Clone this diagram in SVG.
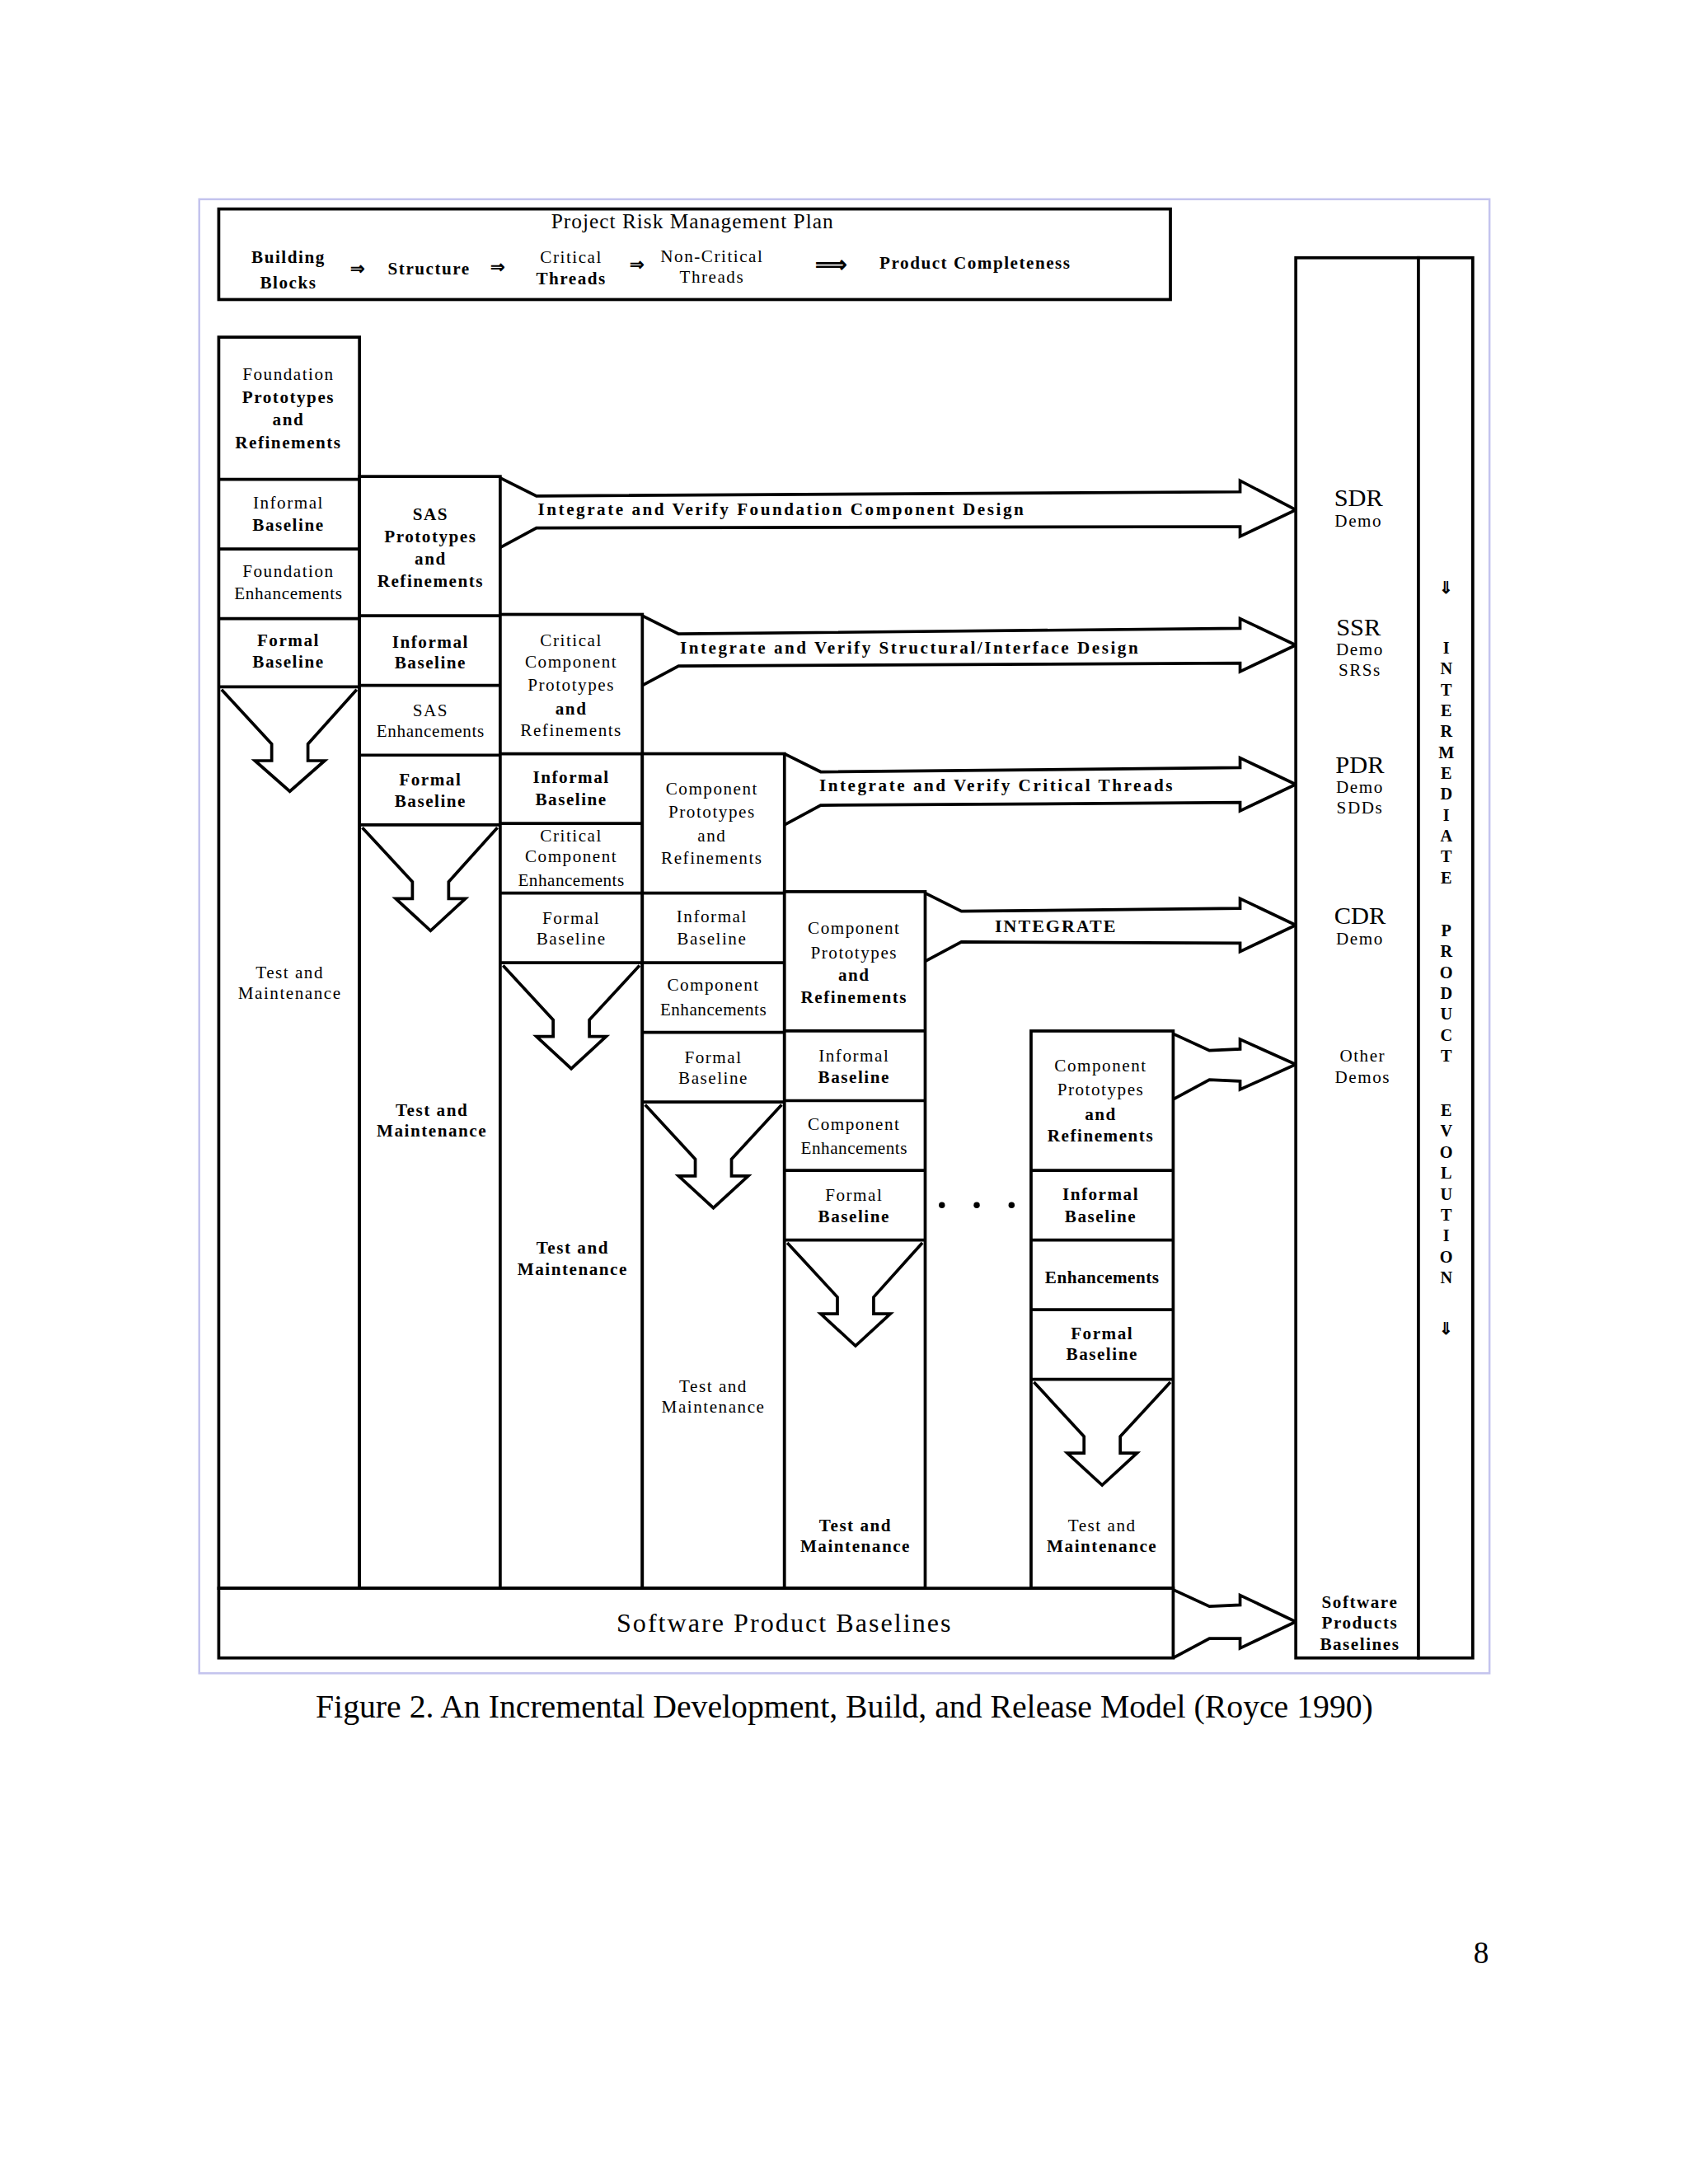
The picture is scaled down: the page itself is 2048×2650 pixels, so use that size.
<svg xmlns="http://www.w3.org/2000/svg" width="2048" height="2650" viewBox="0 0 2048 2650">
<style>
.b{fill:#fff;stroke:#000;stroke-width:2.2}
.l{fill:none;stroke:#000;stroke-width:2.2}
.t{font-family:"Liberation Serif",serif;font-weight:bold;font-size:12.5px;letter-spacing:0.9px;text-anchor:middle}
.a{font-family:"Liberation Serif",serif;font-weight:bold;font-size:12.5px;letter-spacing:1.5px}
.h{font-family:"Liberation Serif",serif;font-size:18px;text-anchor:middle}
.v{font-family:"Liberation Serif",serif;font-weight:bold;font-size:12px;text-anchor:middle}
</style>
<rect width="2048" height="2650" fill="#fff"/>
<g transform="scale(1.6905)">
<rect x="143" y="143" width="926" height="1058" fill="none" stroke="#c4c4ee" stroke-width="1.5"/>
<g id="plan">
<rect class="b" x="157" y="150" width="683" height="65"/>
<text x="497" y="164" style="font-family:'Liberation Serif',serif;font-size:15px;letter-spacing:0.6px;text-anchor:middle">Project Risk Management Plan</text>
<text class="t" x="207" y="189">Building</text><text class="t" x="207" y="207">Blocks</text>
<text class="t" x="257" y="197">⇒</text>
<text class="t" x="308" y="197">Structure</text>
<text class="t" x="358" y="196">⇒</text>
<text class="t" x="410" y="189" style="font-weight:normal">Critical</text><text class="t" x="410" y="204">Threads</text>
<text class="t" x="458" y="194">⇒</text>
<text class="t" x="511" y="188" style="font-weight:normal">Non-Critical</text><text class="t" x="511" y="203" style="font-weight:normal">Threads</text>
<text class="t" x="597" y="195" style="font-size:16px">⟹</text>
<text class="t" x="700" y="193">Product Completeness</text>
</g>
<g id="connectors">
<path class="b" d="M359,343 L385,356 L890,353 L890,345 L930,366 L890,385 L890,378 L385,379 L359,393"/>
<text class="a" x="386" y="370">Integrate and Verify Foundation Component Design</text>
<path class="b" d="M461,442 L487,455 L890,451 L890,444 L930,463 L890,482 L890,476 L487,478 L461,492"/>
<text class="a" x="488" y="469">Integrate and Verify Structural/Interface Design</text>
<path class="b" d="M563,541 L589,554 L890,551 L890,544 L930,563 L890,582 L890,576 L589,578 L563,592"/>
<text class="a" x="588" y="568">Integrate and Verify Critical Threads</text>
<path class="b" d="M664,641 L690,654 L890,652 L890,645 L930,664 L890,683 L890,677 L690,676 L664,690"/>
<text class="a" x="714" y="669" style="font-size:13px;letter-spacing:1.2px">INTEGRATE</text>
<path class="b" d="M842,742 L868,754 L890,753 L890,746 L930,764 L890,782 L890,776 L868,775 L842,789"/>
<path class="b" d="M842,1141 L868,1153 L890,1152 L890,1145 L930,1164 L890,1183 L890,1176 L868,1176 L842,1190"/>
</g>
<g id="col1">
<rect class="b" x="157" y="242" width="101" height="898"/>
<path class="l" d="M157,344H258M157,394H258M157,444H258M157,493H258"/>
<path class="l" d="M159,495 L195,534 L195,546 L183,546 L208,568 L233,546 L221,546 L221,534 L256,495"/>
<text class="t" x="207" y="273" style="font-weight:normal">Foundation</text><text class="t" x="207" y="289">Prototypes</text><text class="t" x="207" y="305">and</text><text class="t" x="207" y="322">Refinements</text>
<text class="t" x="207" y="365" style="font-weight:normal">Informal</text><text class="t" x="207" y="381">Baseline</text>
<text class="t" x="207" y="414" style="font-weight:normal">Foundation</text><text class="t" x="207" y="430" style="font-weight:normal;letter-spacing:0.4px">Enhancements</text>
<text class="t" x="207" y="464">Formal</text><text class="t" x="207" y="479">Baseline</text>
<text class="t" x="208" y="702" style="font-weight:normal">Test and</text><text class="t" x="208" y="717" style="font-weight:normal">Maintenance</text>
</g>
<g id="col2">
<rect class="b" x="258" y="342" width="101" height="798"/>
<path class="l" d="M258,442H359M258,492H359M258,542H359M258,592H359"/>
<path class="l" d="M260,594 L296,633 L296,645 L284,645 L309,668 L334,645 L322,645 L322,633 L357,594"/>
<text class="t" x="309" y="373">SAS</text><text class="t" x="309" y="389">Prototypes</text><text class="t" x="309" y="405">and</text><text class="t" x="309" y="421">Refinements</text>
<text class="t" x="309" y="465">Informal</text><text class="t" x="309" y="480">Baseline</text>
<text class="t" x="309" y="514" style="font-weight:normal">SAS</text><text class="t" x="309" y="529" style="font-weight:normal;letter-spacing:0.4px">Enhancements</text>
<text class="t" x="309" y="564">Formal</text><text class="t" x="309" y="579">Baseline</text>
<text class="t" x="310" y="801">Test and</text><text class="t" x="310" y="816">Maintenance</text>
</g>
<g id="col3">
<rect class="b" x="359" y="441" width="102" height="699"/>
<path class="l" d="M359,541H461M359,591H461M359,641H461M359,691H461"/>
<path class="l" d="M361,693 L397,732 L397,744 L385,744 L410,767 L435,744 L423,744 L423,732 L459,693"/>
<text class="t" x="410" y="464" style="font-weight:normal">Critical</text><text class="t" x="410" y="479" style="font-weight:normal">Component</text><text class="t" x="410" y="496" style="font-weight:normal">Prototypes</text><text class="t" x="410" y="513">and</text><text class="t" x="410" y="528" style="font-weight:normal">Refinements</text>
<text class="t" x="410" y="562">Informal</text><text class="t" x="410" y="578">Baseline</text>
<text class="t" x="410" y="604" style="font-weight:normal">Critical</text><text class="t" x="410" y="619" style="font-weight:normal">Component</text><text class="t" x="410" y="636" style="font-weight:normal;letter-spacing:0.3px">Enhancements</text>
<text class="t" x="410" y="663" style="font-weight:normal">Formal</text><text class="t" x="410" y="678" style="font-weight:normal">Baseline</text>
<text class="t" x="411" y="900">Test and</text><text class="t" x="411" y="915">Maintenance</text>
</g>
<g id="col4">
<rect class="b" x="461" y="541" width="102" height="599"/>
<path class="l" d="M461,641H563M461,691H563M461,741H563M461,791H563"/>
<path class="l" d="M463,793 L499,832 L499,844 L487,844 L512,867 L537,844 L525,844 L525,832 L561,793"/>
<text class="t" x="511" y="570" style="font-weight:normal">Component</text><text class="t" x="511" y="587" style="font-weight:normal">Prototypes</text><text class="t" x="511" y="604" style="font-weight:normal">and</text><text class="t" x="511" y="620" style="font-weight:normal">Refinements</text>
<text class="t" x="511" y="662" style="font-weight:normal">Informal</text><text class="t" x="511" y="678" style="font-weight:normal">Baseline</text>
<text class="t" x="512" y="711" style="font-weight:normal">Component</text><text class="t" x="512" y="729" style="font-weight:normal;letter-spacing:0.3px">Enhancements</text>
<text class="t" x="512" y="763" style="font-weight:normal">Formal</text><text class="t" x="512" y="778" style="font-weight:normal">Baseline</text>
<text class="t" x="512" y="999" style="font-weight:normal">Test and</text><text class="t" x="512" y="1014" style="font-weight:normal">Maintenance</text>
</g>
<g id="col5">
<rect class="b" x="563" y="640" width="101" height="500"/>
<path class="l" d="M563,740H664M563,790H664M563,840H664M563,890H664"/>
<path class="l" d="M565,892 L601,931 L601,943 L589,943 L614,966 L639,943 L627,943 L627,931 L662,892"/>
<text class="t" x="613" y="670" style="font-weight:normal">Component</text><text class="t" x="613" y="688" style="font-weight:normal">Prototypes</text><text class="t" x="613" y="704">and</text><text class="t" x="613" y="720">Refinements</text>
<text class="t" x="613" y="762" style="font-weight:normal">Informal</text><text class="t" x="613" y="777">Baseline</text>
<text class="t" x="613" y="811" style="font-weight:normal">Component</text><text class="t" x="613" y="828" style="font-weight:normal;letter-spacing:0.3px">Enhancements</text>
<text class="t" x="613" y="862" style="font-weight:normal">Formal</text><text class="t" x="613" y="877">Baseline</text>
<text class="t" x="614" y="1099">Test and</text><text class="t" x="614" y="1114">Maintenance</text>
</g>
<g id="dots">
<circle cx="676" cy="865" r="2.2"/><circle cx="701" cy="865" r="2.2"/><circle cx="726" cy="865" r="2.2"/>
</g>
<g id="col6">
<rect class="b" x="740" y="740" width="102" height="400"/>
<path class="l" d="M740,840H842M740,890H842M740,940H842M740,990H842"/>
<path class="l" d="M742,992 L778,1031 L778,1043 L766,1043 L791,1066 L816,1043 L804,1043 L804,1031 L840,992"/>
<text class="t" x="790" y="769" style="font-weight:normal">Component</text><text class="t" x="790" y="786" style="font-weight:normal">Prototypes</text><text class="t" x="790" y="804">and</text><text class="t" x="790" y="819">Refinements</text>
<text class="t" x="790" y="861">Informal</text><text class="t" x="790" y="877">Baseline</text>
<text class="t" x="791" y="921" style="letter-spacing:0.3px">Enhancements</text>
<text class="t" x="791" y="961">Formal</text><text class="t" x="791" y="976">Baseline</text>
<text class="t" x="791" y="1099" style="font-weight:normal">Test and</text><text class="t" x="791" y="1114">Maintenance</text>
</g>
<g id="baselines">
<rect class="b" x="157" y="1140" width="685" height="50"/>
<text x="563" y="1171" style="font-family:'Liberation Serif',serif;font-size:19px;letter-spacing:1.2px;text-anchor:middle">Software Product Baselines</text>
</g>
<g id="reviews">
<rect class="b" x="930" y="185" width="88" height="1005"/>
<text class="h" x="975" y="363">SDR</text><text class="t" x="975" y="378" style="font-weight:normal">Demo</text>
<text class="h" x="975" y="456">SSR</text><text class="t" x="976" y="470" style="font-weight:normal">Demo</text><text class="t" x="976" y="485" style="font-weight:normal">SRSs</text>
<text class="h" x="976" y="555">PDR</text><text class="t" x="976" y="569" style="font-weight:normal">Demo</text><text class="t" x="976" y="584" style="font-weight:normal">SDDs</text>
<text class="h" x="976" y="663">CDR</text><text class="t" x="976" y="678" style="font-weight:normal">Demo</text>
<text class="t" x="978" y="762" style="font-weight:normal">Other</text><text class="t" x="978" y="777" style="font-weight:normal">Demos</text>
<text class="t" x="976" y="1154">Software</text><text class="t" x="976" y="1169">Products</text><text class="t" x="976" y="1184">Baselines</text>
</g>
<g id="evolution">
<rect class="b" x="1018" y="185" width="39" height="1005"/>
<text class="v" x="1038" y="426">⇓</text>
<text class="v" x="1038" y="469">I</text><text class="v" x="1038" y="484">N</text><text class="v" x="1038" y="499">T</text><text class="v" x="1038" y="514">E</text><text class="v" x="1038" y="529">R</text><text class="v" x="1038" y="544">M</text><text class="v" x="1038" y="559">E</text><text class="v" x="1038" y="574">D</text><text class="v" x="1038" y="589">I</text><text class="v" x="1038" y="604">A</text><text class="v" x="1038" y="619">T</text><text class="v" x="1038" y="634">E</text>
<text class="v" x="1038" y="672">P</text><text class="v" x="1038" y="687">R</text><text class="v" x="1038" y="702">O</text><text class="v" x="1038" y="717">D</text><text class="v" x="1038" y="732">U</text><text class="v" x="1038" y="747">C</text><text class="v" x="1038" y="762">T</text>
<text class="v" x="1038" y="801">E</text><text class="v" x="1038" y="816">V</text><text class="v" x="1038" y="831">O</text><text class="v" x="1038" y="846">L</text><text class="v" x="1038" y="861">U</text><text class="v" x="1038" y="876">T</text><text class="v" x="1038" y="891">I</text><text class="v" x="1038" y="906">O</text><text class="v" x="1038" y="921">N</text>
<text class="v" x="1038" y="958">⇓</text>
</g>
<text x="606" y="1233" style="font-family:'Liberation Serif',serif;font-size:23.5px;text-anchor:middle">Figure 2. An Incremental Development, Build, and Release Model (Royce 1990)</text>
<text x="1063" y="1409" style="font-family:'Liberation Serif',serif;font-size:22px;text-anchor:middle">8</text>
</g>
</svg>
